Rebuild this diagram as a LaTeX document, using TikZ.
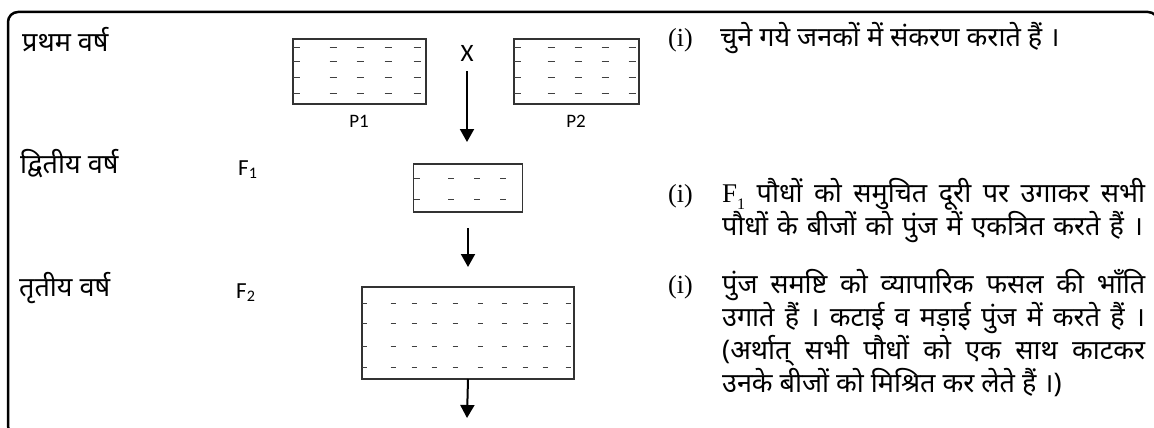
\documentclass[tikz,border=0pt]{standalone}
\usepackage{fontspec}
\setmainfont{Liberation Serif}
\newfontfamily\hindi[Script=Devanagari]{Noto Sans}
\newfontfamily\carl{Carlito}
\usetikzlibrary{arrows.meta}
\begin{document}
\begin{tikzpicture}[x=1pt,y=-1pt,
  box/.style={draw=black!80, line width=1.3pt, inner sep=0pt, outer sep=0pt},
  dsh/.style={draw=black!75, line width=1pt},
  arr/.style={line width=2pt, -{Triangle[width=14pt,length=13pt]}},
  lbl/.style={font=\hindi\fontsize{27}{30}\selectfont, anchor=base west, inner sep=0pt},
  lat/.style={font=\carl\fontsize{23}{26}\selectfont, inner sep=0pt, anchor=base},
  num/.style={font=\fontsize{26}{30}\selectfont, anchor=base west, inner sep=0pt},
  txt/.style={font=\hindi\fontsize{27}{33}\selectfont, anchor=base west, inner sep=0pt},
]
\useasboundingbox (0,0) rectangle (1154,428);
\begin{scope}
  \clip (0,0) rectangle (1154,428);
  \draw[line width=2.5pt, rounded corners=10pt] (8,12) rectangle (1158,436);
\end{scope}

% year labels
\node[lbl] (y1) at (22,52) {प्रथम वर्ष};
\node[lbl] (y2) at (20,173) {द्वितीय वर्ष};
\node[lbl] (y3) at (19,296) {तृतीय वर्ष};
\node[lat, anchor=base west] (f1) at (238,175) {F\textsubscript{1}};
\node[lat, anchor=base west] (f2) at (236,298) {F\textsubscript{2}};

% boxes
\node[box, minimum width=133pt, minimum height=65pt] (P1) at (359.5,71.5) {};
\node[box, minimum width=125pt, minimum height=65pt] (P2) at (576.5,71.5) {};
\node[lat, font=\carl\fontsize{19}{22}\selectfont] (p1l) at (359,127) {P1};
\node[lat, font=\carl\fontsize{19}{22}\selectfont] (p2l) at (576,127) {P2};
\node[lat, font=\carl\fontsize{25}{28}\selectfont] (X) at (467,62) {X};
\node[box, minimum width=109pt, minimum height=48pt] (F1box) at (468,188) {};
\node[box, minimum width=212pt, minimum height=92pt] (F2box) at (468,333) {};
\coordinate (e3) at (467,418);

% dashes
\foreach \y in {48,62,78,93}{
  \draw[dsh] (293,\y) -- ++(7,0);
  \foreach \x in {333,360,388,417} \draw[dsh] ({\x-3.5},\y) -- ++(7,0);
  \draw[dsh] (514,\y) -- ++(7,0);
  \foreach \x in {551,578,605,632} \draw[dsh] ({\x-3.5},\y) -- ++(7,0);
}
\foreach \y in {178,199}{
  \draw[dsh] (413.5,\y) -- ++(6,0);
  \foreach \x in {451,477,503} \draw[dsh] ({\x-3},\y) -- ++(6,0);
}
\foreach \y in {303,323,346,367}{
  \draw[dsh] (362,\y) -- ++(5,0);
  \foreach \x in {393,414,434,455,480,504,525,545,568} \draw[dsh] ({\x-2.5},\y) -- ++(5,0);
}

% arrows
\draw[arr, shorten <=9pt, shorten >=22pt] (X.south) -- (X.south |- F1box.north);
\draw[arr, shorten <=16pt, shorten >=20pt] (F1box.south) -- (F1box.south |- F2box.north);
\draw[arr] (F2box.south) -- (e3);

% right-hand notes
\node[num] (n1) at (668,47) {(i)};
\node[txt] (t1) at (720,47) {चुने गये जनकों में संकरण कराते हैं ।};

\node[num] (n2) at (668,202) {(i)};
\node[txt] (t2a) at (722,202) {\makebox[423pt][s]{{\rmfamily F\raisebox{-7pt}{\fontsize{16}{16}\selectfont 1}} पौधों को समुचित दूरी पर उगाकर सभी}};
\node[txt] (t2b) at (722,235) {\makebox[421pt][s]{पौधों के बीजों को पुंज में एकत्रित करते हैं ।}};

\node[num] (n3) at (668,293) {(i)};
\node[txt] (t3a) at (722,293) {\makebox[423pt][s]{पुंज समष्टि को व्यापारिक फसल की भाँति}};
\node[txt] (t3b) at (722,326) {\makebox[423pt][s]{उगाते हैं । कटाई व मड़ाई पुंज में करते हैं ।}};
\node[txt] (t3c) at (722,359) {\makebox[423pt][s]{(अर्थात् सभी पौधों को एक साथ काटकर}};
\node[txt] (t3d) at (722,392) {उनके बीजों को मिश्रित कर लेते हैं ।)};
\end{tikzpicture}
\end{document}
